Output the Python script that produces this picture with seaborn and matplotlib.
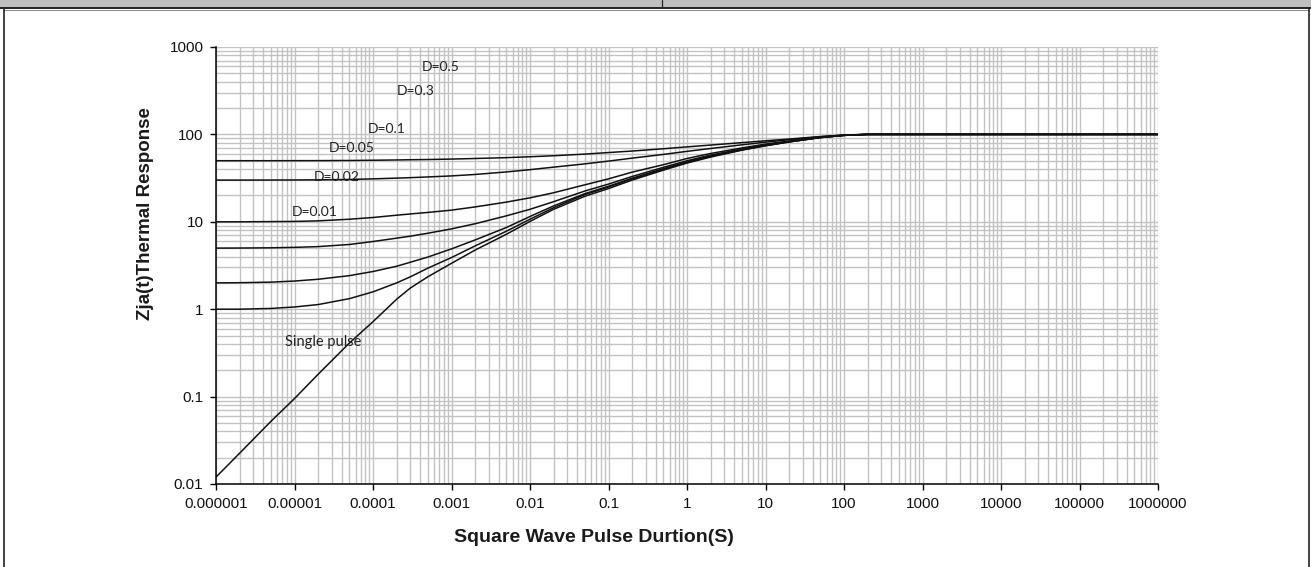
import numpy as np
import pandas as pd
import matplotlib
matplotlib.use("Agg")
import matplotlib.pyplot as plt
from matplotlib.lines import Line2D
from matplotlib.patches import Rectangle
from matplotlib.ticker import LogLocator, NullFormatter
import seaborn as sns

# ---------------- data ----------------
pulse_duration = [1e-6, 2e-6, 5e-6, 1e-5, 2e-5, 5e-5, 1e-4, 2e-4, 3e-4, 5e-4,
                  1e-3, 2e-3, 5e-3, 1e-2, 2e-2, 5e-2, 0.1, 0.2, 0.5,
                  1, 2, 5, 10, 20, 50, 100, 200, 500, 1e3, 1e4, 1e5, 1e6]

d_050 = [50, 50, 50, 50.05, 50.1, 50.3, 50.6, 51, 51.3, 51.6, 52.2, 53, 54.2, 55.5, 57, 59.5,
         62, 64.5, 68.5, 72, 75.5, 80.5, 84.5, 88.5, 94.5, 98.5, 100, 100, 100, 100, 100, 100]
d_030 = [30, 30, 30.05, 30.1, 30.2, 30.5, 31, 31.6, 32, 32.6, 33.5, 34.8, 37.2, 39.5, 42.2, 46,
         49.5, 53.5, 59, 64, 69, 76, 81.5, 87, 94, 98, 100, 100, 100, 100, 100, 100]
d_010 = [10, 10, 10.05, 10.1, 10.25, 10.7, 11.2, 11.9, 12.3, 12.8, 13.6, 14.8, 16.8, 18.8, 21.5, 26.5,
         31, 37, 45, 53, 60.5, 70, 77.5, 84, 93, 98, 100, 100, 100, 100, 100, 100]
d_005 = [5, 5.01, 5.04, 5.1, 5.2, 5.5, 5.95, 6.5, 6.85, 7.4, 8.3, 9.5, 11.7, 13.9, 17, 22.5,
         27, 33, 42, 50, 58, 68, 76, 83, 92.5, 97.5, 100, 100, 100, 100, 100, 100]
d_002 = [2, 2.01, 2.04, 2.1, 2.2, 2.42, 2.7, 3.1, 3.45, 3.95, 4.9, 6.2, 8.6, 11.5, 15.2, 21,
         25.5, 31.5, 40.5, 48.5, 56.5, 67, 75, 82.5, 92, 97.5, 100, 100, 100, 100, 100, 100]
d_001 = [1, 1.0, 1.02, 1.06, 1.13, 1.32, 1.58, 2.0, 2.35, 2.95, 3.9, 5.3, 7.8, 10.7, 14.5, 20.5,
         25, 31, 40, 48, 56, 66.5, 74.5, 82, 92, 97.5, 100, 100, 100, 100, 100, 100]
single = [0.012, 0.0225, 0.052, 0.095, 0.18, 0.41, 0.72, 1.3, 1.75, 2.35, 3.35, 4.75, 7.2, 10.1, 13.9, 19.6,
          24, 30, 39, 47, 55, 66, 74, 82, 92, 97.5, 100, 100, 100, 100, 100, 100]

series_names = ["D=0.5", "D=0.3", "D=0.1", "D=0.05", "D=0.02", "D=0.01", "Single pulse"]
series_values = [d_050, d_030, d_010, d_005, d_002, d_001, single]

# curve labels: text, x, y (data coordinates)
label_text = ["D=0.5", "D=0.3", "D=0.1", "D=0.05", "D=0.02", "D=0.01", "Single pulse"]
label_x = [7.3e-4, 3.5e-4, 1.5e-4, 5.4e-5, 3.4e-5, 1.8e-5, 2.3e-5]
label_y = [588, 312, 115, 69.5, 32.4, 12.9, 0.42]

x_ticks = [1e-6, 1e-5, 1e-4, 1e-3, 1e-2, 1e-1, 1, 10, 100, 1e3, 1e4, 1e5, 1e6]
x_tick_labels = ["0.000001", "0.00001", "0.0001", "0.001", "0.01", "0.1", "1",
                 "10", "100", "1000", "10000", "100000", "1000000"]
y_ticks = [0.01, 0.1, 1, 10, 100, 1000]
y_tick_labels = ["0.01", "0.1", "1", "10", "100", "1000"]

x_title = "Square Wave Pulse Durtion(S)"
y_title = "Zja(t)Thermal Response"

# ---------------- figure ----------------
sns.set_theme(style="white")
plt.rcParams["font.family"] = ["Liberation Sans", "DejaVu Sans"]

W, H = 1311, 567
fig = plt.figure(figsize=(W / 100, H / 100), dpi=100)
fig.patch.set_facecolor("white")

def fx(px):
    return px / W

def fy(py):
    return 1 - py / H

ax_l, ax_r, ax_t, ax_b = 216, 1158, 47, 484
ax = fig.add_axes([fx(ax_l), fy(ax_b), fx(ax_r - ax_l), (ax_b - ax_t) / H])

frames = []
for name, vals in zip(series_names, series_values):
    frames.append(pd.DataFrame({"t": pulse_duration, "z": vals, "series": name}))
df = pd.concat(frames, ignore_index=True)

sns.lineplot(data=df, x="t", y="z", hue="series", palette=["#111111"] * len(series_names),
             legend=False, ax=ax, linewidth=1.1, sort=False, estimator=None)

ax.set_xscale("log")
ax.set_yscale("log")
ax.set_xlim(1e-6, 1e6)
ax.set_ylim(0.01, 1000)

ax.set_xticks(x_ticks)
ax.set_xticklabels(x_tick_labels)
ax.set_yticks(y_ticks)
ax.set_yticklabels(y_tick_labels)
ax.xaxis.set_minor_locator(LogLocator(base=10, subs=np.arange(2, 10), numticks=100))
ax.yaxis.set_minor_locator(LogLocator(base=10, subs=np.arange(2, 10), numticks=100))
ax.xaxis.set_minor_formatter(NullFormatter())
ax.yaxis.set_minor_formatter(NullFormatter())

ax.grid(True, which="both", color="#c2c2c2", linewidth=1.0)
ax.set_axisbelow(True)

for s in ["top", "right"]:
    ax.spines[s].set_visible(False)
for s in ["left", "bottom"]:
    ax.spines[s].set_color("black")
    ax.spines[s].set_linewidth(1.1)

ax.tick_params(axis="both", which="major", direction="out", length=4, width=1.0,
               color="black", labelsize=11, labelcolor="#111111", pad=5)
ax.tick_params(axis="both", which="minor", length=0)
ax.tick_params(axis="x", which="major", bottom=True)
ax.tick_params(axis="y", which="major", left=True)

ax.set_xlabel(x_title, fontsize=14, fontweight="bold", color="#1a1a1a")
ax.xaxis.set_label_coords((594 - ax_l) / (ax_r - ax_l), (ax_b - 538) / (ax_b - ax_t))
ax.xaxis.label.set_va("center")
ax.set_ylabel(y_title, fontsize=13.5, fontweight="bold", color="#1a1a1a")
ax.yaxis.set_label_coords((145 - ax_l) / (ax_r - ax_l), (ax_b - 214) / (ax_b - ax_t))
ax.yaxis.label.set_va("center")

for txt, lx, ly in zip(label_text, label_x, label_y):
    ax.text(lx, ly, txt, fontsize=10 if txt.startswith("D") else 10.5,
            family=["Lato", "DejaVu Sans"], color="#222222", ha="center", va="center")

# ---------------- page frame ----------------
fig.add_artist(Rectangle((0, fy(7)), 1, 7 / H, transform=fig.transFigure,
                         facecolor="#bfbfbf", edgecolor="none"))
fig.add_artist(Line2D([0, 1], [fy(7.8), fy(7.8)], transform=fig.transFigure,
                      color="#111111", linewidth=1.3))
fig.add_artist(Line2D([fx(3), fx(1309)], [fy(9.8), fy(9.8)], transform=fig.transFigure,
                      color="#888888", linewidth=0.7))
fig.add_artist(Line2D([fx(662), fx(662)], [1, fy(7)], transform=fig.transFigure,
                      color="#222222", linewidth=0.9))
fig.add_artist(Line2D([fx(3.5), fx(3.5)], [0, fy(7.8)], transform=fig.transFigure,
                      color="#222222", linewidth=1.2))
fig.add_artist(Line2D([fx(1308.5), fx(1308.5)], [0, fy(7.8)], transform=fig.transFigure,
                      color="#222222", linewidth=1.2))

fig.savefig("out.png", dpi=100, facecolor="white")
